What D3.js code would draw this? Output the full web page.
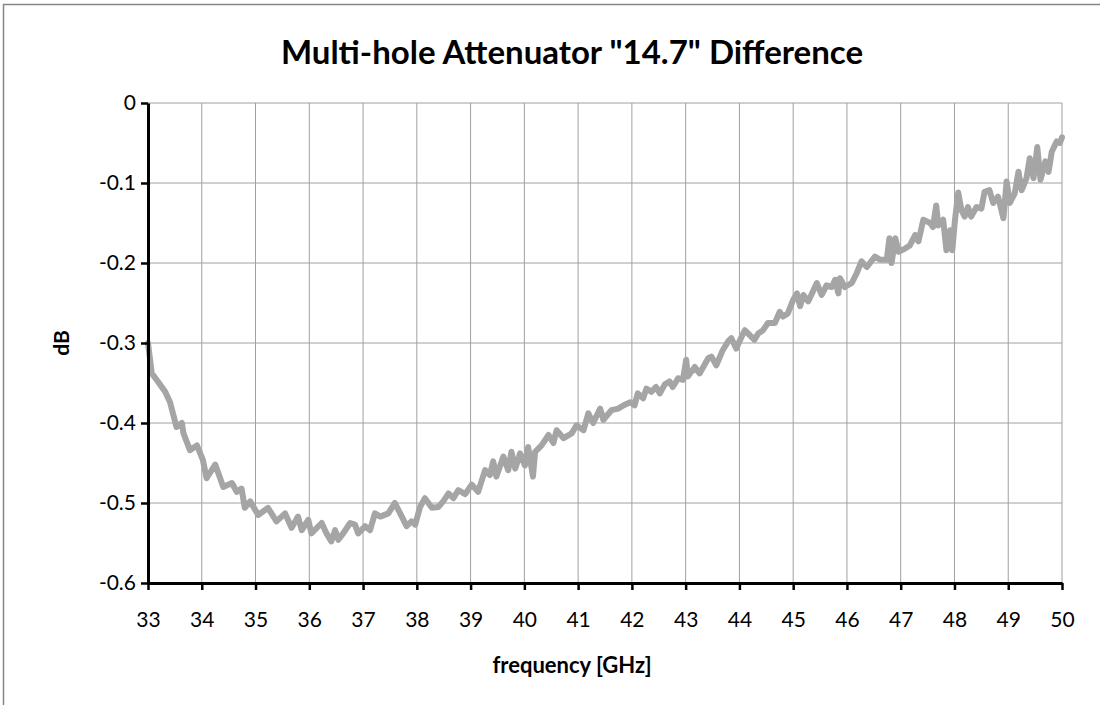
<!DOCTYPE html>
<html>
<head>
<meta charset="utf-8">
<script src="https://cdn.jsdelivr.net/npm/d3@7"></script>
<style>
  body { margin: 0; background: #fff; }
  text { font-family: Lato, "Open Sans", sans-serif; }
</style>
</head>
<body>
<svg id="chart" width="1100" height="705"></svg>
<script>
// frequency readings [GHz]
var freq = [
  33.00, 33.07, 33.16, 33.32, 33.41, 33.53, 33.63, 33.66, 33.78, 33.91,
  34.02, 34.09, 34.25, 34.40, 34.56, 34.65, 34.74, 34.80, 34.90, 35.05,
  35.23, 35.39, 35.55, 35.67, 35.79, 35.86, 35.98, 36.04, 36.23, 36.32,
  36.41, 36.48, 36.54, 36.63, 36.76, 36.85, 36.91, 37.04, 37.13, 37.22,
  37.32, 37.47, 37.59, 37.69, 37.81, 37.90, 37.97, 38.06, 38.15, 38.28,
  38.40, 38.49, 38.59, 38.68, 38.77, 38.90, 39.02, 39.14, 39.27, 39.36,
  39.42, 39.48, 39.61, 39.70, 39.76, 39.83, 39.92, 40.01, 40.07, 40.16,
  40.20, 40.32, 40.45, 40.54, 40.60, 40.73, 40.88, 40.97, 41.10, 41.19,
  41.28, 41.41, 41.47, 41.62, 41.75, 41.84, 41.97, 42.05, 42.11, 42.21,
  42.27, 42.36, 42.45, 42.52, 42.61, 42.70, 42.76, 42.86, 42.95, 43.01,
  43.04, 43.17, 43.26, 43.42, 43.48, 43.57, 43.69, 43.79, 43.85, 43.94,
  44.00, 44.10, 44.19, 44.28, 44.35, 44.44, 44.53, 44.66, 44.75, 44.81,
  44.90, 45.00, 45.07, 45.13, 45.19, 45.28, 45.44, 45.53, 45.62, 45.72,
  45.78, 45.84, 45.87, 45.96, 46.09, 46.18, 46.27, 46.37, 46.52, 46.62,
  46.74, 46.79, 46.83, 46.90, 46.96, 47.08, 47.17, 47.27, 47.33, 47.42,
  47.55, 47.60, 47.66, 47.70, 47.79, 47.85, 47.92, 47.96, 48.01, 48.07,
  48.13, 48.19, 48.25, 48.31, 48.41, 48.50, 48.56, 48.65, 48.72, 48.81,
  48.91, 48.97, 49.03, 49.12, 49.19, 49.25, 49.34, 49.40, 49.47, 49.54,
  49.60, 49.69, 49.75, 49.81, 49.90, 49.96, 50.00
];

// difference [dB]
var diff = [
  -0.300, -0.338, -0.346, -0.361, -0.374, -0.405, -0.400, -0.413, -0.434, -0.428,
  -0.446, -0.469, -0.452, -0.480, -0.475, -0.486, -0.482, -0.506, -0.498, -0.515,
  -0.506, -0.523, -0.513, -0.531, -0.517, -0.534, -0.521, -0.538, -0.525, -0.538,
  -0.548, -0.534, -0.546, -0.538, -0.525, -0.527, -0.538, -0.529, -0.534, -0.513,
  -0.517, -0.513, -0.500, -0.513, -0.529, -0.523, -0.527, -0.505, -0.494, -0.506,
  -0.505, -0.498, -0.488, -0.494, -0.484, -0.489, -0.477, -0.486, -0.459, -0.465,
  -0.448, -0.467, -0.442, -0.459, -0.436, -0.457, -0.438, -0.453, -0.430, -0.467,
  -0.436, -0.428, -0.415, -0.425, -0.409, -0.419, -0.413, -0.403, -0.409, -0.388,
  -0.400, -0.382, -0.396, -0.384, -0.382, -0.378, -0.374, -0.378, -0.363, -0.369,
  -0.357, -0.361, -0.355, -0.363, -0.352, -0.348, -0.355, -0.344, -0.346, -0.321,
  -0.342, -0.330, -0.338, -0.319, -0.317, -0.328, -0.309, -0.298, -0.294, -0.307,
  -0.298, -0.284, -0.290, -0.296, -0.288, -0.284, -0.275, -0.275, -0.261, -0.267,
  -0.263, -0.246, -0.238, -0.254, -0.240, -0.248, -0.225, -0.240, -0.228, -0.230,
  -0.221, -0.238, -0.219, -0.230, -0.225, -0.213, -0.198, -0.205, -0.192, -0.196,
  -0.196, -0.169, -0.200, -0.169, -0.186, -0.182, -0.178, -0.165, -0.173, -0.146,
  -0.150, -0.155, -0.128, -0.153, -0.146, -0.184, -0.159, -0.184, -0.146, -0.112,
  -0.134, -0.142, -0.130, -0.142, -0.130, -0.132, -0.111, -0.109, -0.125, -0.117,
  -0.144, -0.098, -0.125, -0.113, -0.086, -0.109, -0.094, -0.069, -0.094, -0.055,
  -0.096, -0.073, -0.086, -0.061, -0.048, -0.050, -0.043
];

var xTicks = d3.range(33, 51, 1);
var yTicks = [0, -0.1, -0.2, -0.3, -0.4, -0.5, -0.6];

var title = 'Multi-hole Attenuator "14.7" Difference';
var xTitle = "frequency [GHz]";
var yTitle = "dB";

var data = freq.map(function(f, i) { return { f: f, v: diff[i] }; });

var svg = d3.select("#chart");

// chart border (only left and top visible in frame)
svg.append("path")
   .attr("d", "M3.5,705 L3.5,4.5 L1100,4.5")
   .attr("fill", "none")
   .attr("stroke", "#868686")
   .attr("stroke-width", 1.5);

var margin = { left: 148, top: 103, right: 1100 - 1062, bottom: 705 - 583 };
var width = 1100 - margin.left - margin.right;
var height = 705 - margin.top - margin.bottom;

var x = d3.scaleLinear().domain([33, 50]).range([0, width]);
var y = d3.scaleLinear().domain([-0.6, 0]).range([height, 0]);

var g = svg.append("g")
           .attr("transform", "translate(" + margin.left + "," + margin.top + ")");

// gridlines
g.append("g")
 .selectAll("line.vgrid")
 .data(xTicks)
 .enter().append("line")
 .attr("x1", function(d) { return x(d); })
 .attr("x2", function(d) { return x(d); })
 .attr("y1", 0)
 .attr("y2", height)
 .attr("stroke", "#a0a0a0")
 .attr("stroke-width", 1);

g.append("g")
 .selectAll("line.hgrid")
 .data(yTicks)
 .enter().append("line")
 .attr("x1", 0)
 .attr("x2", width)
 .attr("y1", function(d) { return y(d); })
 .attr("y2", function(d) { return y(d); })
 .attr("stroke", "#a0a0a0")
 .attr("stroke-width", 1);

// the series
var line = d3.line()
             .x(function(d) { return x(d.f); })
             .y(function(d) { return y(d.v); });

g.append("path")
 .datum(data)
 .attr("d", line)
 .attr("fill", "none")
 .attr("stroke", "#a5a5a5")
 .attr("stroke-width", 6)
 .attr("stroke-linejoin", "round")
 .attr("stroke-linecap", "round");

// axes
var xAxis = g.append("g")
             .attr("transform", "translate(0," + height + ")")
             .call(d3.axisBottom(x).tickValues(xTicks).tickSize(7).tickSizeOuter(0).tickPadding(22)
                   .tickFormat(d3.format("d")));
xAxis.select(".domain").attr("stroke", "#000").attr("stroke-width", 3);
xAxis.selectAll(".tick line").attr("stroke", "#000").attr("stroke-width", 2.5);
xAxis.selectAll("text")
     .style("font-family", "Lato, 'Open Sans', sans-serif")
     .style("font-size", "21px")
     .attr("fill", "#000");

var yAxis = g.append("g")
             .call(d3.axisLeft(y).tickValues(yTicks).tickSize(7).tickSizeOuter(0).tickPadding(5)
                   .tickFormat(function(d) { return d === 0 ? "0" : d3.format(".1f")(d).replace("−", "-"); }));
yAxis.select(".domain").attr("stroke", "#000").attr("stroke-width", 3);
yAxis.selectAll(".tick line").attr("stroke", "#000").attr("stroke-width", 2.5);
yAxis.selectAll("text")
     .style("font-family", "Lato, 'Open Sans', sans-serif")
     .style("font-size", "21px")
     .attr("fill", "#000");

// titles
svg.append("text")
   .attr("x", 572)
   .attr("y", 64)
   .attr("text-anchor", "middle")
   .style("font-size", "33px")
   .style("font-weight", "bold")
   .text(title);

svg.append("text")
   .attr("x", 572)
   .attr("y", 673)
   .attr("text-anchor", "middle")
   .style("font-size", "22px")
   .style("font-weight", "bold")
   .text(xTitle);

svg.append("text")
   .attr("transform", "translate(69,343) rotate(-90)")
   .attr("text-anchor", "middle")
   .style("font-size", "21px")
   .style("font-weight", "bold")
   .text(yTitle);
</script>
</body>
</html>
